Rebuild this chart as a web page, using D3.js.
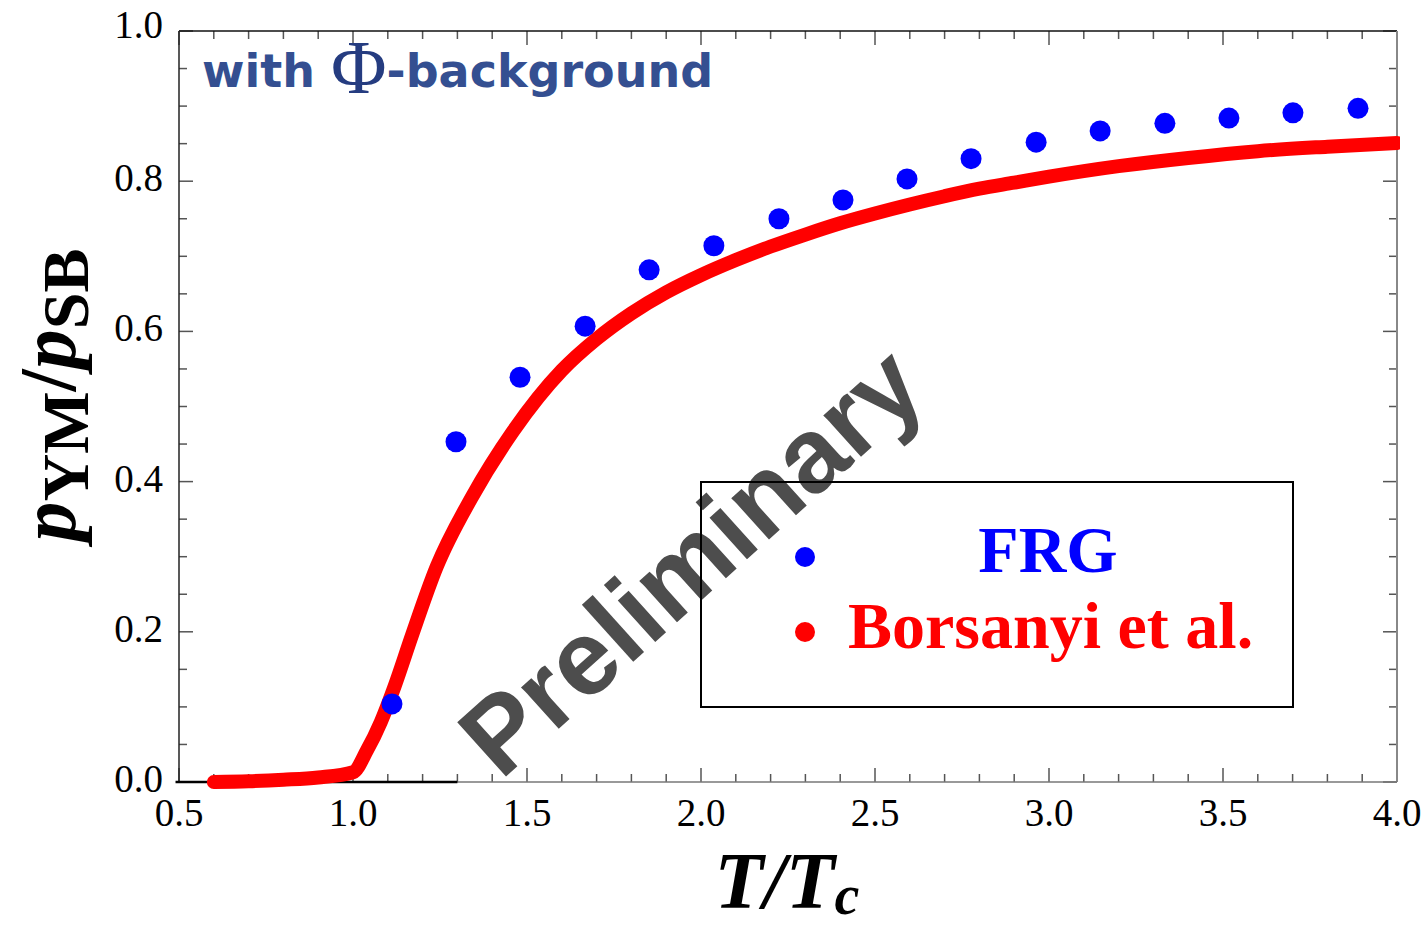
<!DOCTYPE html>
<html>
<head>
<meta charset="utf-8">
<script src="https://cdn.jsdelivr.net/npm/d3@7"></script>
<style>
  body { margin: 0; background: #fff; }
  svg { display: block; }
</style>
</head>
<body>
<div id="chart"></div>
<script>
// FRG points (T/Tc, p/pSB)
const frgT = [1.112, 1.296, 1.480, 1.667, 1.851, 2.037, 2.224, 2.408, 2.592, 2.776, 2.963, 3.147, 3.333, 3.517, 3.701, 3.888];
const frgP = [0.104, 0.453, 0.539, 0.607, 0.682, 0.714, 0.750, 0.775, 0.803, 0.830, 0.852, 0.867, 0.877, 0.884, 0.891, 0.897];

// Borsanyi et al. lattice curve
const latT = [0.6, 0.7, 0.8, 0.9, 1.0, 1.04, 1.08, 1.12, 1.17, 1.24, 1.34, 1.46, 1.6, 1.7, 1.8, 1.9, 2.0, 2.1, 2.2, 2.3, 2.4, 2.5, 2.6, 2.7, 2.8, 2.9, 3.0, 3.2, 3.4, 3.6, 3.8, 4.0];
const latP = [0.000, 0.001, 0.003, 0.006, 0.013, 0.042, 0.080, 0.128, 0.196, 0.286, 0.378, 0.467, 0.548, 0.590, 0.624, 0.652, 0.675, 0.695, 0.713, 0.729, 0.744, 0.757, 0.769, 0.780, 0.790, 0.798, 0.806, 0.820, 0.831, 0.840, 0.846, 0.851];

const xTicks = [0.5, 1.0, 1.5, 2.0, 2.5, 3.0, 3.5, 4.0];
const yTicks = [0.0, 0.2, 0.4, 0.6, 0.8, 1.0];

const margin = { top: 31, right: 30, bottom: 145, left: 179 },
    W = 1427, H = 927,
    width = W - margin.left - margin.right,
    height = H - margin.top - margin.bottom;

const svg = d3.select("#chart").append("svg")
    .attr("width", W).attr("height", H);

const g = svg.append("g")
    .attr("transform", `translate(${margin.left},${margin.top})`);

const x = d3.scaleLinear().domain([0.5, 4.0]).range([0, width]);
const y = d3.scaleLinear().domain([0, 1]).range([height, 0]);

// minor / major ticks, all four sides, pointing inward
const xMinor = d3.range(5, 41).map(d => d / 10);
const yMinor = d3.range(0, 21).map(d => d / 20);
const isMajorX = v => Math.abs(v * 2 - Math.round(v * 2)) < 1e-6;
const isMajorY = v => Math.abs(v * 5 - Math.round(v * 5)) < 1e-6;
const tickCol = "#555";

xMinor.forEach(v => {
  const len = isMajorX(v) ? 14 : 8;
  g.append("line").attr("x1", x(v)).attr("x2", x(v)).attr("y1", height).attr("y2", height - len)
    .attr("stroke", tickCol).attr("stroke-width", 1.5);
  g.append("line").attr("x1", x(v)).attr("x2", x(v)).attr("y1", 0).attr("y2", len)
    .attr("stroke", tickCol).attr("stroke-width", 1.5);
});
yMinor.forEach(v => {
  const len = isMajorY(v) ? 14 : 8;
  g.append("line").attr("x1", 0).attr("x2", len).attr("y1", y(v)).attr("y2", y(v))
    .attr("stroke", tickCol).attr("stroke-width", 1.5);
  g.append("line").attr("x1", width).attr("x2", width - len).attr("y1", y(v)).attr("y2", y(v))
    .attr("stroke", tickCol).attr("stroke-width", 1.5);
});

// frame
g.append("line").attr("x1", 0).attr("x2", width).attr("y1", 0).attr("y2", 0).attr("stroke", "#111").attr("stroke-width", 1.5);
g.append("line").attr("x1", 0).attr("x2", 0).attr("y1", 0).attr("y2", height).attr("stroke", "#222").attr("stroke-width", 1.5);
g.append("line").attr("x1", width).attr("x2", width).attr("y1", 0).attr("y2", height).attr("stroke", "#888").attr("stroke-width", 2);
g.append("line").attr("x1", 0).attr("x2", width).attr("y1", height).attr("y2", height).attr("stroke", "#777").attr("stroke-width", 1.5);
// darker axis piece of the overlaid curve plot
g.append("line").attr("x1", x(0.49)).attr("x2", x(1.3)).attr("y1", y(0)).attr("y2", y(0))
  .attr("stroke", "#000").attr("stroke-width", 2.5);

// tick labels
const serif = "'Liberation Serif', 'Times New Roman', serif";
g.selectAll(".xl").data(xTicks).enter().append("text")
  .attr("x", d => x(d)).attr("y", height + 44)
  .attr("text-anchor", "middle")
  .attr("font-family", serif).attr("font-size", 39)
  .text(d => d.toFixed(1));
g.selectAll(".yl").data(yTicks).enter().append("text")
  .attr("x", -16).attr("y", d => y(d) + (d === 1 ? 7 : 10))
  .attr("text-anchor", "end")
  .attr("font-family", serif).attr("font-size", 39)
  .text(d => d.toFixed(1));

// watermark
g.append("text")
  .attr("transform", `translate(${x(1.97)},${y(0.295)}) rotate(-42)`)
  .attr("text-anchor", "middle").attr("dominant-baseline", "central")
  .attr("font-family", "'Liberation Sans', Arial, sans-serif").attr("font-weight", "bold")
  .attr("font-size", 106).attr("fill", "#4d4d4d")
  .text("Preliminary");

// lattice curve, cut at the right frame
g.append("clipPath").attr("id", "clip").append("rect")
  .attr("x", -20).attr("y", -20).attr("width", width + 23).attr("height", height + 40);
const line = d3.line().x((d, i) => x(latT[i])).y(d => y(d)).curve(d3.curveMonotoneX);
g.append("path").datum(latP)
  .attr("clip-path", "url(#clip)")
  .attr("d", line)
  .attr("fill", "none").attr("stroke", "#ff0000").attr("stroke-width", 14)
  .attr("stroke-linecap", "round").attr("stroke-linejoin", "round");

// FRG points
g.selectAll(".frg").data(frgT).enter().append("circle")
  .attr("cx", d => x(d)).attr("cy", (d, i) => y(frgP[i]))
  .attr("r", 10.5).attr("fill", "#0000ff");

// header text
const head = svg.append("text").attr("x", 202).attr("y", 87)
  .attr("font-family", "'DejaVu Sans', Verdana, sans-serif").attr("font-weight", "bold")
  .attr("font-size", 46).attr("fill", "#344f91");
head.append("tspan").text("with ");
head.append("tspan").attr("font-family", serif).attr("font-weight", "normal")
  .attr("font-size", 76).attr("dy", 6).attr("fill", "#253c80").text("Φ");
head.append("tspan").attr("dy", -6).text("-background");

// legend
const leg = svg.append("g");
leg.append("rect").attr("x", 701).attr("y", 482).attr("width", 592).attr("height", 225)
  .attr("fill", "none").attr("stroke", "#000").attr("stroke-width", 2);
leg.append("circle").attr("cx", 805).attr("cy", 557).attr("r", 10).attr("fill", "#0000ff");
leg.append("circle").attr("cx", 805).attr("cy", 632).attr("r", 10).attr("fill", "#ff0000");
leg.append("text").attr("x", 1048).attr("y", 572).attr("text-anchor", "middle")
  .attr("font-family", serif).attr("font-weight", "bold").attr("font-size", 66)
  .attr("fill", "#0000ff").text("FRG");
leg.append("text").attr("x", 848).attr("y", 648)
  .attr("font-family", serif).attr("font-weight", "bold").attr("font-size", 66)
  .attr("fill", "#ff0000").text("Borsanyi et al.");

// axis titles
const xt = svg.append("text").attr("x", 787).attr("y", 908).attr("text-anchor", "middle")
  .attr("font-family", serif).attr("font-weight", "bold").attr("font-style", "italic")
  .attr("font-size", 80);
xt.append("tspan").text("T/T");
xt.append("tspan").attr("font-size", 56).attr("dy", 6).text("c");

const yt = svg.append("text").attr("transform", "translate(75,395) rotate(-90)")
  .attr("text-anchor", "middle")
  .attr("font-family", serif).attr("font-weight", "bold").attr("font-size", 80);
yt.append("tspan").attr("font-style", "italic").text("p");
yt.append("tspan").attr("font-size", 66).attr("dy", 13).text("YM");
yt.append("tspan").attr("dy", -13).text("/");
yt.append("tspan").attr("font-style", "italic").text("p");
yt.append("tspan").attr("font-size", 66).attr("dy", 13).text("SB");
</script>
</body>
</html>
